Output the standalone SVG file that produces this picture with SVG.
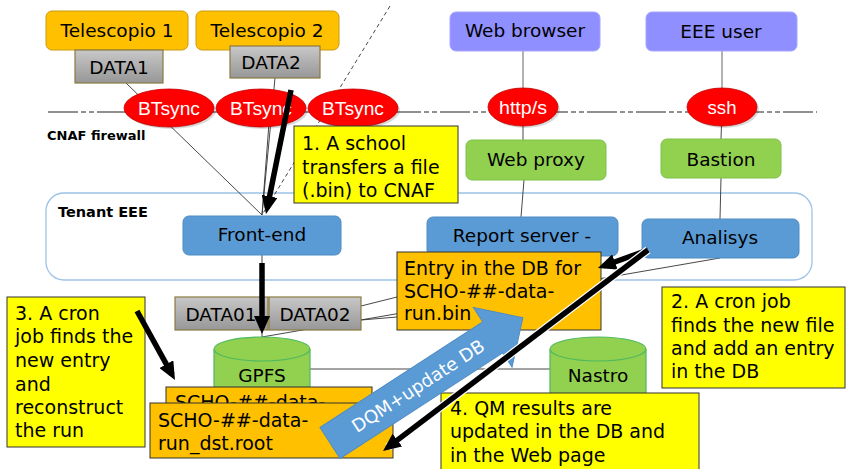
<svg xmlns="http://www.w3.org/2000/svg" width="846" height="469" viewBox="0 0 846 469">
<style>
.lbl{font-family:"DejaVu Sans","Liberation Sans",sans-serif;font-size:18.5px;fill:#000;text-anchor:middle}
.box{font-family:"DejaVu Sans","Liberation Sans",sans-serif;font-size:19px;fill:#000}
.bold{font-family:"DejaVu Sans","Liberation Sans",sans-serif;font-size:13px;font-weight:bold;fill:#000}
.ell{font-family:"Liberation Sans Narrow","Liberation Sans",sans-serif;font-size:19px;fill:#fff;text-anchor:middle}
.tel{fill:#FFC000;stroke:#C99A10;stroke-width:1}
.data{fill:url(#gray);stroke:#8a7a40;stroke-width:1.2}
.red{fill:#FF0000;stroke:#c00000;stroke-width:0.8}
.shadow{fill:#000;opacity:0.15}
.purple{fill:#8F8FFF;stroke:#a5a5ff;stroke-width:1}
.green{fill:#92D050;stroke:#7cc24a;stroke-width:1}
.blue{fill:#5B9BD5;stroke:#4f8cc4;stroke-width:1}
.yellow{fill:#FFFF00;stroke:#333;stroke-width:1}
.orange{fill:#FFC000;stroke:#333;stroke-width:1}
.cyl{fill:#92D050;stroke:#4fb860;stroke-width:1.2}
.thin{stroke:#333;stroke-width:0.9;fill:none}
.thick{stroke:#000;stroke-width:5.5;fill:none;marker-end:url(#ah)}
</style>
<defs>
<linearGradient id="gray" x1="0" y1="0" x2="0" y2="1">
<stop offset="0" stop-color="#c8c8c8"/>
<stop offset="1" stop-color="#979797"/>
</linearGradient>
<marker id="ah" viewBox="0 0 18 16" refX="12" refY="8" markerWidth="18" markerHeight="16" orient="auto" markerUnits="userSpaceOnUse">
<path d="M0,0 L18,8 L0,16 Z" fill="#000"/>
</marker>
<clipPath id="backclip"><rect x="166" y="387" width="206" height="16"/></clipPath>
</defs>
<rect width="846" height="469" fill="#fff"/>

<g id="tenant-eee">
<rect x="46" y="193" width="766" height="87" rx="18" fill="#fff" stroke="#9DC3E6" stroke-width="1.3"/>
<text class="bold" x="58" y="217" style="font-size:14.5px">Tenant EEE</text>
</g>

<g id="firewall">
<line x1="48" y1="112" x2="817" y2="112" stroke="#222" stroke-width="1" stroke-dasharray="30 3 5 3 5 3"/>
<text class="bold" x="47" y="140">CNAF firewall</text>
</g>

<g id="connectors">
<line class="thin" x1="126" y1="83" x2="262" y2="215"/>
<line class="thin" x1="275" y1="78" x2="262" y2="215"/>
<line class="thin" x1="270" y1="110" x2="262" y2="215"/>
<line class="thin" x1="390" y1="6" x2="262" y2="215" stroke-dasharray="4 3"/>
<line x1="523" y1="51" x2="523" y2="100" stroke="#999" stroke-width="1.5"/>
<line class="thin" x1="523" y1="110" x2="523" y2="140"/>
<line x1="722" y1="51" x2="722" y2="100" stroke="#999" stroke-width="1.5"/>
<line class="thin" x1="722" y1="110" x2="721" y2="139"/>
<line class="thin" x1="524" y1="180" x2="521" y2="217"/>
<line class="thin" x1="721" y1="178" x2="720" y2="219"/>
<line class="thin" x1="720" y1="258" x2="262" y2="337"/>
<line class="thin" x1="361" y1="306" x2="397" y2="297"/>
<line class="thin" x1="361" y1="320" x2="397" y2="317"/>
<line class="thin" x1="262" y1="255" x2="262" y2="337"/>
<line class="thin" x1="310" y1="369" x2="550" y2="369"/>
</g>

<g id="telescopio-1">
<rect class="tel" x="46" y="11" width="142" height="39" rx="6"/>
<text class="lbl" x="117" y="37">Telescopio 1</text>
</g>
<g id="telescopio-2">
<rect class="tel" x="196" y="11" width="143" height="39" rx="6"/>
<text class="lbl" x="267" y="37">Telescopio 2</text>
</g>
<g id="data1">
<rect class="data" x="75" y="50" width="88" height="33" stroke="#333"/>
<text class="lbl" x="119" y="74">DATA1</text>
</g>
<g id="data2">
<rect class="data" x="230" y="46" width="90" height="32"/>
<text class="lbl" x="271" y="69">DATA2</text>
</g>

<g id="btsync-1">
<ellipse class="shadow" cx="171" cy="110" rx="45" ry="19"/>
<ellipse class="red" cx="169" cy="108" rx="45" ry="19"/>
<text class="ell" x="169" y="115" textLength="62" lengthAdjust="spacingAndGlyphs">BTsync</text>
</g>
<g id="btsync-2">
<ellipse class="shadow" cx="263" cy="110" rx="45" ry="19"/>
<ellipse class="red" cx="261" cy="108" rx="45" ry="19"/>
<text class="ell" x="261" y="115" textLength="62" lengthAdjust="spacingAndGlyphs">BTsync</text>
</g>
<g id="btsync-3">
<ellipse class="shadow" cx="355" cy="110" rx="45" ry="19"/>
<ellipse class="red" cx="353" cy="108" rx="45" ry="19"/>
<text class="ell" x="353" y="115" textLength="62" lengthAdjust="spacingAndGlyphs">BTsync</text>
</g>

<g id="web-browser">
<rect class="purple" x="450" y="12" width="150" height="39" rx="6"/>
<text class="lbl" x="525" y="37">Web browser</text>
</g>
<g id="eee-user">
<rect class="purple" x="646" y="12" width="151" height="39" rx="6"/>
<text class="lbl" x="721" y="38">EEE user</text>
</g>
<g id="https">
<ellipse class="shadow" cx="525" cy="109" rx="35" ry="19"/>
<ellipse class="red" cx="523" cy="107" rx="35" ry="19"/>
<text class="ell" x="523" y="114" textLength="48" lengthAdjust="spacingAndGlyphs">http/s</text>
</g>
<g id="ssh">
<ellipse class="shadow" cx="724" cy="109" rx="35" ry="19"/>
<ellipse class="red" cx="722" cy="107" rx="35" ry="19"/>
<text class="ell" x="722" y="114" textLength="29" lengthAdjust="spacingAndGlyphs">ssh</text>
</g>
<g id="web-proxy">
<rect class="green" x="466" y="140" width="140" height="40" rx="6"/>
<text class="lbl" x="536" y="166">Web proxy</text>
</g>
<g id="bastion">
<rect class="green" x="661" y="139" width="120" height="39" rx="6"/>
<text class="lbl" x="721" y="166">Bastion</text>
</g>

<g id="front-end">
<rect class="blue" x="183" y="216" width="158" height="39" rx="6"/>
<text class="lbl" x="262" y="241">Front-end</text>
</g>
<g id="report-server">
<rect class="blue" x="427" y="217" width="191" height="39" rx="6"/>
<text class="lbl" x="522" y="242">Report server -</text>
</g>
<g id="analisys">
<rect class="blue" x="642" y="219" width="157" height="39" rx="6"/>
<text class="lbl" x="720" y="244">Analisys</text>
</g>

<g id="data01">
<rect class="data" x="175" y="297" width="93" height="33"/>
<text class="lbl" x="221" y="321">DATA01</text>
</g>
<g id="data02">
<rect class="data" x="269" y="297" width="92" height="33"/>
<text class="lbl" x="315" y="321">DATA02</text>
</g>

<g id="gpfs">
<path class="cyl" d="M214,349 L214,405 A48,12 0 0,0 310,405 L310,349"/>
<ellipse class="cyl" cx="262" cy="349" rx="48" ry="12"/>
<text class="lbl" x="262" y="382">GPFS</text>
</g>
<g id="nastro">
<path class="cyl" d="M550,349 L550,405 A48,12 0 0,0 646,405 L646,349"/>
<ellipse class="cyl" cx="598" cy="349" rx="48" ry="12"/>
<text class="lbl" x="598" y="382">Nastro</text>
</g>

<g id="note-1">
<rect class="yellow" x="294" y="126" width="164" height="77"/>
<text class="box" x="302" y="150">1. A school</text>
<text class="box" x="302" y="174">transfers a file</text>
<text class="box" x="302" y="197">(.bin) to CNAF</text>
</g>
<g id="note-2">
<rect class="yellow" x="662" y="287" width="183" height="101"/>
<text class="box" x="671" y="308">2. A cron job</text>
<text class="box" x="671" y="332">finds the new file</text>
<text class="box" x="671" y="355">and add an entry</text>
<text class="box" x="671" y="378">in the DB</text>
</g>
<g id="note-3">
<rect class="yellow" x="7" y="297" width="138" height="150"/>
<text class="box" x="15" y="320">3. A cron</text>
<text class="box" x="15" y="343">job finds the</text>
<text class="box" x="15" y="367">new entry</text>
<text class="box" x="15" y="391">and</text>
<text class="box" x="15" y="414">reconstruct</text>
<text class="box" x="15" y="437">the run</text>
</g>
<g id="db-entry">
<rect class="orange" x="397" y="252" width="204" height="78"/>
<text class="box" x="404" y="275">Entry in the DB for</text>
<text class="box" x="404" y="298">SCHO-##-data-</text>
<text class="box" x="404" y="320">run.bin</text>
</g>
<g id="scho-bin">
<rect class="orange" x="166" y="387" width="206" height="40"/>
<text class="box" x="175" y="409" clip-path="url(#backclip)">SCHO-##-data-</text>
</g>
<g id="scho-dst">
<rect class="orange" x="150" y="403" width="243" height="55"/>
<text class="box" x="158" y="427">SCHO-##-data-</text>
<text class="box" x="158" y="450">run_dst.root</text>
</g>
<g id="note-4">
<rect class="yellow" x="441" y="393" width="258" height="80"/>
<text class="box" x="450" y="415">4. QM results are</text>
<text class="box" x="450" y="438">updated in the DB and</text>
<text class="box" x="450" y="462">in the Web page</text>
</g>

<g id="dqm-arrow" transform="translate(330,443) rotate(-33)">
<polygon points="0,-18.5 194,-18.5 194,-35.5 230,0 194,35.5 194,18.5 0,18.5" fill="#5B9BD5" stroke="#4f8cc4" stroke-width="1"/>
<text x="105" y="6.5" font-family="DejaVu Sans, sans-serif" font-size="18" fill="#fff" text-anchor="middle">DQM+update DB</text>
</g>

<g id="flow-arrows">
<line class="thick" x1="291" y1="90" x2="267.2" y2="208.1"/>
<line class="thick" x1="262" y1="263" x2="262" y2="328"/>
<line class="thick" x1="137" y1="311" x2="172.1" y2="374.7"/>
<line class="thick" x1="648" y1="250" x2="603.6" y2="266"/>
<line x1="648" y1="250" x2="387.8" y2="447.4" stroke="#fff" stroke-width="8"/>
<line class="thick" x1="648" y1="250" x2="387.8" y2="447.4"/>
</g>
</svg>
